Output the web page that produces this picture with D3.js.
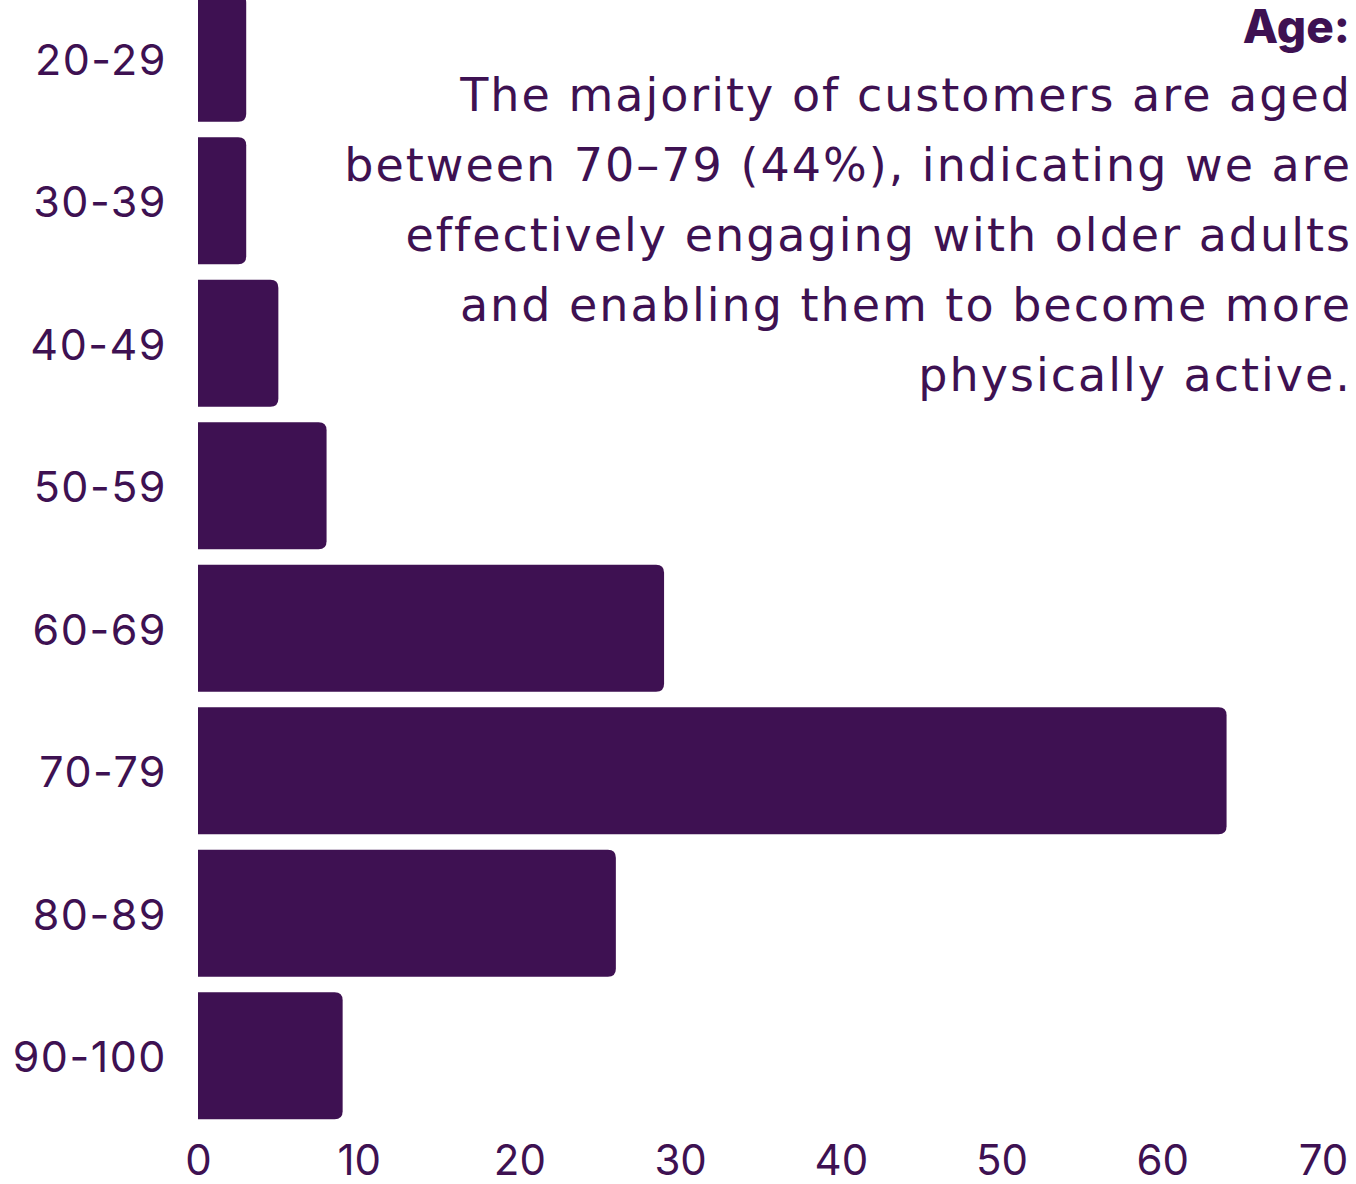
<!DOCTYPE html>
<html>
<head>
    <meta charset="UTF-8">
    <title>Age</title>
    <script src="https://cdnjs.cloudflare.com/ajax/libs/d3/7.8.5/d3.min.js"></script>
    <style>
        body {
            margin: 0;
            background: #ffffff;
        }

        svg text {
            font-family: "Inter", "Open Sans", sans-serif;
            fill: #3e1152;
        }

        .note {
            font-family: "DejaVu Sans", "Inter", sans-serif;
            letter-spacing: 2px;
        }

        .domain {
            display: none;
        }
    </style>
</head>
<body>
    <svg id="chart" width="1356" height="1184"></svg>
    <script>
        var ageGroups = ["20-29", "30-39", "40-49", "50-59", "60-69", "70-79", "80-89", "90-100"];
        var customerCounts = [3, 3, 5, 8, 29, 64, 26, 9];
        var xTicks = [0, 10, 20, 30, 40, 50, 60, 70];
        var titleText = "Age:";
        var noteLines = [
            "The majority of customers are aged",
            "between 70\u201379 (44%), indicating we are",
            "effectively engaging with older adults",
            "and enabling them to become more",
            "physically active."
        ];

        var barColor = "#3e1152";
        var svg = d3.select("#chart");

        var x = d3.scaleLinear()
            .domain([0, 70])
            .range([198, 1323]);

        var y = d3.scaleBand()
            .domain(ageGroups)
            .range([-13, 1127])
            .paddingInner(0.109)
            .paddingOuter(0.0545);

        var rows = ageGroups.map((g, i) => ({ group: g, value: customerCounts[i] }));

        // bars: square on the left, rounded on the right
        function barPath(d) {
            var x0 = x(0), x1 = x(d.value), y0 = y(d.group), h = y.bandwidth();
            var r = Math.min(8, (x1 - x0) / 2);
            return `M${x0},${y0} H${x1 - r} Q${x1},${y0} ${x1},${y0 + r}` +
                ` V${y0 + h - r} Q${x1},${y0 + h} ${x1 - r},${y0 + h} H${x0} Z`;
        }

        svg.selectAll("path.bar")
            .data(rows)
            .enter()
            .append("path")
            .attr("class", "bar")
            .attr("d", barPath)
            .style("fill", barColor);

        // y labels
        var yAxis = svg.append("g")
            .attr("transform", `translate(${x(0)},0)`)
            .call(d3.axisLeft(y).tickSize(0).tickPadding(31));
        yAxis.selectAll("text")
            .style("font-size", "43px")
            .style("letter-spacing", "1.5px")
            .attr("dy", "0.38em");

        // x labels
        var xAxis = svg.append("g")
            .attr("transform", `translate(0,${y.range()[1] - 7})`)
            .call(d3.axisBottom(x).tickValues(xTicks).tickSize(0).tickPadding(25));
        xAxis.selectAll("text")
            .style("font-size", "42px");

        // annotation
        svg.append("text")
            .attr("x", 1350)
            .attr("y", 43)
            .attr("text-anchor", "end")
            .style("font-size", "46px")
            .style("font-weight", "800")
            .text(titleText);

        svg.selectAll("text.note")
            .data(noteLines)
            .enter()
            .append("text")
            .attr("class", "note")
            .attr("x", 1352)
            .attr("y", (d, i) => 111 + i * 70)
            .attr("text-anchor", "end")
            .style("font-size", "46px")
            .text(d => d);
    </script>
</body>
</html>
